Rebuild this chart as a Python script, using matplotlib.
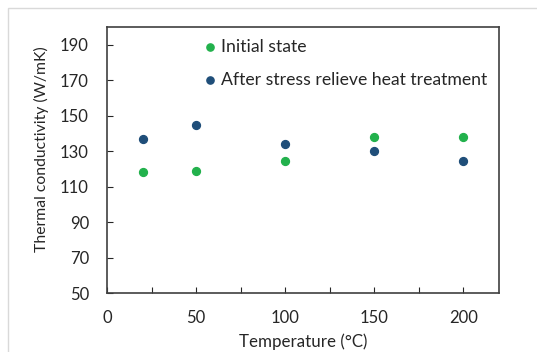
import matplotlib
matplotlib.use("Agg")
import matplotlib.pyplot as plt
from matplotlib.ticker import MultipleLocator
from matplotlib.patches import Rectangle

temperature = [20, 50, 100, 150, 200]
initial_state = [118, 119, 124.5, 138, 138]
after_srht = [136.7, 144.5, 133.8, 130, 124.2]
series_labels = ["Initial state", "After stress relieve heat treatment"]

plt.rcParams['font.family'] = ['Lato', 'DejaVu Sans']

fig = plt.figure(figsize=(5.37, 3.52), dpi=100)
W, H = 537, 352
ax = fig.add_axes([107 / W, 1 - 293 / H, (499 - 107) / W, (293 - 27) / H])

# outer chart border
fig.patches.append(Rectangle((8 / W, -0.1), 1.2, 1 - 8 / H + 0.1, transform=fig.transFigure,
                             fill=False, edgecolor='#d9d9d9', linewidth=1.0))

green = '#22b14c'
blue = '#1f4e79'
ax.scatter(temperature, initial_state, s=32, color=green, zorder=3)
ax.scatter(temperature, after_srht, s=32, color=blue, zorder=3)

ax.set_xlim(0, 220)
ax.set_ylim(50, 200)
ax.xaxis.set_major_locator(MultipleLocator(50))
ax.xaxis.set_minor_locator(MultipleLocator(25))
ax.set_yticks(range(50, 191, 20))
ax.tick_params(axis='both', which='both', direction='in', labelsize=12, colors='#262626')
ax.tick_params(axis='both', which='major', length=4, width=0.8)
ax.tick_params(axis='x', which='minor', length=4, width=0.8)
ax.tick_params(axis='x', pad=12)
ax.tick_params(axis='y', pad=13)
for s in ax.spines.values():
    s.set_color('#404040')
    s.set_linewidth(1.2)

ax.set_xlabel("Temperature (°C)", fontsize=12.2, color='#262626', labelpad=5.5)
fig.text(41 / W, 1 - 149 / H, "Thermal conductivity (W/mK)", fontsize=11.3, color='#262626',
         rotation=90, ha='center', va='center')

# legend
for i, (lab, col) in enumerate(zip(series_labels, [green, blue])):
    y_px = 47 + 33 * i
    fig.lines.append(plt.Line2D([210 / W], [1 - y_px / H], marker='o', markersize=5.2,
                                color=col, linestyle='none', transform=fig.transFigure))
    fig.text(221 / W, 1 - y_px / H, lab, fontsize=12.7, color='#262626', va='center', ha='left')

fig.savefig("out.png", dpi=100)
